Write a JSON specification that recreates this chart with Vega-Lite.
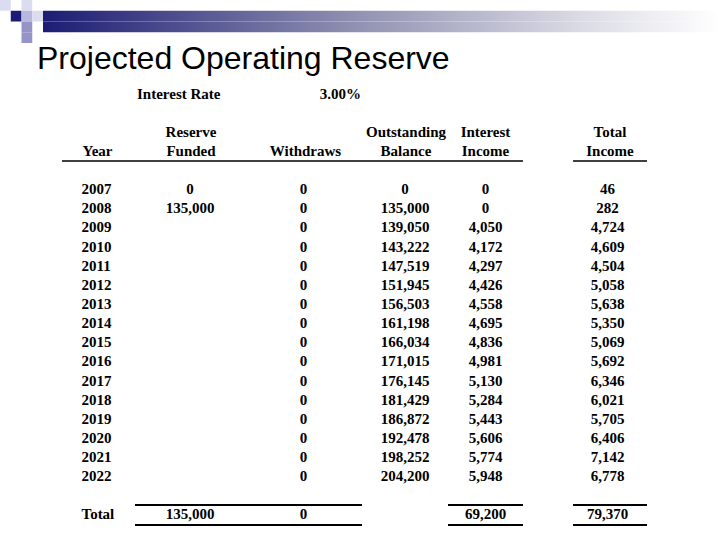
{
  "$schema": "https://vega.github.io/schema/vega-lite/v6.json",
  "padding": 0,
  "background": "white",
  "spacing": 0,
  "config": {
    "view": {"stroke": null},
    "concat": {"spacing": 0},
    "text": {"font": "Liberation Serif", "fontWeight": "bold", "fontSize": 15, "color": "#000000"},
    "rule": {"color": "#000000"}
  },
  "datasets": {
    "deco": [
      {"c": 0, "r": 0, "shade": "pale"},
      {"c": 1, "r": 1, "shade": "navy"},
      {"c": 2, "r": 0, "shade": "pale"},
      {"c": 2, "r": 1, "shade": "soft"},
      {"c": 3, "r": 1, "shade": "pale"},
      {"c": 2, "r": 2, "shade": "mid"},
      {"c": 2, "r": 3, "shade": "mid"}
    ],
    "bar": [{"r": 1}, {"r": 2}],
    "params": [{"label": "Interest Rate", "rate": 0.03}],
    "headers": [
      {"col": "year", "row": "h2", "label": "Year"},
      {"col": "funded", "row": "h1", "label": "Reserve"},
      {"col": "funded", "row": "h2", "label": "Funded"},
      {"col": "withdraws", "row": "h2", "label": "Withdraws"},
      {"col": "balance", "row": "h1", "label": "Outstanding"},
      {"col": "balance", "row": "h2", "label": "Balance"},
      {"col": "interest", "row": "h1", "label": "Interest"},
      {"col": "interest", "row": "h2", "label": "Income"},
      {"col": "total", "row": "h1", "label": "Total"},
      {"col": "total", "row": "h2", "label": "Income"}
    ],
    "table": [
      {"year": "2007", "funded": 0, "withdraws": 0, "balance": 0, "interest": 0, "total": 46},
      {"year": "2008", "funded": 135000, "withdraws": 0, "balance": 135000, "interest": 0, "total": 282},
      {"year": "2009", "funded": null, "withdraws": 0, "balance": 139050, "interest": 4050, "total": 4724},
      {"year": "2010", "funded": null, "withdraws": 0, "balance": 143222, "interest": 4172, "total": 4609},
      {"year": "2011", "funded": null, "withdraws": 0, "balance": 147519, "interest": 4297, "total": 4504},
      {"year": "2012", "funded": null, "withdraws": 0, "balance": 151945, "interest": 4426, "total": 5058},
      {"year": "2013", "funded": null, "withdraws": 0, "balance": 156503, "interest": 4558, "total": 5638},
      {"year": "2014", "funded": null, "withdraws": 0, "balance": 161198, "interest": 4695, "total": 5350},
      {"year": "2015", "funded": null, "withdraws": 0, "balance": 166034, "interest": 4836, "total": 5069},
      {"year": "2016", "funded": null, "withdraws": 0, "balance": 171015, "interest": 4981, "total": 5692},
      {"year": "2017", "funded": null, "withdraws": 0, "balance": 176145, "interest": 5130, "total": 6346},
      {"year": "2018", "funded": null, "withdraws": 0, "balance": 181429, "interest": 5284, "total": 6021},
      {"year": "2019", "funded": null, "withdraws": 0, "balance": 186872, "interest": 5443, "total": 5705},
      {"year": "2020", "funded": null, "withdraws": 0, "balance": 192478, "interest": 5606, "total": 6406},
      {"year": "2021", "funded": null, "withdraws": 0, "balance": 198252, "interest": 5774, "total": 7142},
      {"year": "2022", "funded": null, "withdraws": 0, "balance": 204200, "interest": 5948, "total": 6778},
      {"year": "Total", "funded": 135000, "withdraws": 0, "balance": null, "interest": 69200, "total": 79370}
    ]
  },
  "vconcat": [
    {
      "spacing": 0,
      "hconcat": [
        {
          "width": 43, "height": 43,
          "data": {"name": "deco"},
          "mark": {"type": "rect"},
          "encoding": {
            "x": {"field": "c", "type": "ordinal", "axis": null, "scale": {"domain": [0, 1, 2, 3], "paddingInner": 0, "paddingOuter": 0}},
            "y": {"field": "r", "type": "ordinal", "axis": null, "scale": {"domain": [0, 1, 2, 3], "paddingInner": 0, "paddingOuter": 0}},
            "color": {"field": "shade", "type": "nominal", "legend": null, "scale": {"domain": ["navy", "mid", "soft", "pale"], "range": ["#1c1c78", "#9494c8", "#b8b8de", "#dcdcf0"]}}
          }
        },
        {
          "width": 677, "height": 43,
          "data": {"name": "bar"},
          "mark": {"type": "rect", "color": {"gradient": "linear", "x1": 0, "y1": 0, "x2": 1, "y2": 0, "stops": [{"offset": 0, "color": "#1c1c74"}, {"offset": 0.45, "color": "#8e8eb0"}, {"offset": 0.8, "color": "#dcdce6"}, {"offset": 1, "color": "#ffffff"}]}},
          "encoding": {
            "y": {"field": "r", "type": "ordinal", "axis": null, "scale": {"domain": [0, 1, 2, 3], "paddingInner": 0, "paddingOuter": 0}}
          }
        }
      ]
    },
    {
      "spacing": 0,
      "bounds": "flush",
      "title": {"text": "Projected Operating Reserve", "anchor": "start", "frame": "bounds", "font": "Liberation Sans", "fontSize": 32, "fontWeight": "normal", "color": "#000000", "dx": 37, "offset": 8},
      "hconcat": [
        {"width": 62, "height": 440, "data": {"values": []}, "mark": "text", "encoding": {}},
        {
          "width": 73, "height": 440,
          "layer": [
            {"data": {"name": "headers"}, "transform": [{"filter": "datum.col == 'year'"}], "mark": {"type": "text", "align": "left", "dx": -16}, "encoding": {"y": {"field": "row", "type": "ordinal", "axis": null, "scale": {"domain": ["ir","s1","h1","h2","s2","2007","2008","2009","2010","2011","2012","2013","2014","2015","2016","2017","2018","2019","2020","2021","2022","s3","Total"], "padding": 0}}, "text": {"field": "label"}}},
            {"data": {"name": "table"}, "mark": {"type": "text", "align": "left", "dx": -17}, "encoding": {"y": {"field": "year", "type": "ordinal", "axis": null}, "text": {"field": "year"}}},
            {"data": {"values": [{}]}, "mark": {"type": "rule", "yOffset": 10, "strokeWidth": 1.5}, "encoding": {"y": {"datum": "h2", "type": "ordinal", "axis": null}}}
          ]
        },
        {
          "width": 110, "height": 440,
          "layer": [
            {"data": {"name": "params"}, "mark": {"type": "text", "align": "left", "dx": -53}, "encoding": {"y": {"datum": "ir", "type": "ordinal", "axis": null, "scale": {"domain": ["ir","s1","h1","h2","s2","2007","2008","2009","2010","2011","2012","2013","2014","2015","2016","2017","2018","2019","2020","2021","2022","s3","Total"], "padding": 0}}, "text": {"field": "label"}}},
            {"data": {"name": "headers"}, "transform": [{"filter": "datum.col == 'funded'"}], "mark": {"type": "text", "dx": 1}, "encoding": {"y": {"field": "row", "type": "ordinal", "axis": null}, "text": {"field": "label"}}},
            {"data": {"name": "table"}, "transform": [{"filter": "datum.funded != null"}], "mark": {"type": "text"}, "encoding": {"y": {"field": "year", "type": "ordinal", "axis": null}, "text": {"field": "funded", "type": "quantitative", "format": ",.0f"}}},
            {"data": {"values": [{}]}, "mark": {"type": "rule", "yOffset": 10, "strokeWidth": 1.5}, "encoding": {"y": {"datum": "h2", "type": "ordinal", "axis": null}}},
            {"data": {"values": [{}]}, "mark": {"type": "rule", "yOffset": -9.5, "strokeWidth": 2}, "encoding": {"y": {"datum": "Total", "type": "ordinal", "axis": null}}},
            {"data": {"values": [{}]}, "mark": {"type": "rule", "yOffset": 10.5, "strokeWidth": 2}, "encoding": {"y": {"datum": "Total", "type": "ordinal", "axis": null}}}
          ]
        },
        {
          "width": 117, "height": 440,
          "layer": [
            {"data": {"name": "params"}, "mark": {"type": "text", "align": "right", "dx": 57.5}, "encoding": {"y": {"datum": "ir", "type": "ordinal", "axis": null, "scale": {"domain": ["ir","s1","h1","h2","s2","2007","2008","2009","2010","2011","2012","2013","2014","2015","2016","2017","2018","2019","2020","2021","2022","s3","Total"], "padding": 0}}, "text": {"field": "rate", "type": "quantitative", "format": ".2%"}}},
            {"data": {"name": "headers"}, "transform": [{"filter": "datum.col == 'withdraws'"}], "mark": {"type": "text", "dx": 2}, "encoding": {"y": {"field": "row", "type": "ordinal", "axis": null}, "text": {"field": "label"}}},
            {"data": {"name": "table"}, "transform": [{"filter": "datum.withdraws != null"}], "mark": {"type": "text"}, "encoding": {"y": {"field": "year", "type": "ordinal", "axis": null}, "text": {"field": "withdraws", "type": "quantitative", "format": ",.0f"}}},
            {"data": {"values": [{}]}, "mark": {"type": "rule", "yOffset": 10, "strokeWidth": 1.5}, "encoding": {"y": {"datum": "h2", "type": "ordinal", "axis": null}}},
            {"data": {"values": [{}]}, "mark": {"type": "rule", "yOffset": -9.5, "strokeWidth": 2}, "encoding": {"y": {"datum": "Total", "type": "ordinal", "axis": null}}},
            {"data": {"values": [{}]}, "mark": {"type": "rule", "yOffset": 10.5, "strokeWidth": 2}, "encoding": {"y": {"datum": "Total", "type": "ordinal", "axis": null}}}
          ]
        },
        {
          "width": 86, "height": 440,
          "layer": [
            {"data": {"name": "headers"}, "transform": [{"filter": "datum.col == 'balance'"}], "mark": {"type": "text", "dx": 1}, "encoding": {"y": {"field": "row", "type": "ordinal", "axis": null, "scale": {"domain": ["ir","s1","h1","h2","s2","2007","2008","2009","2010","2011","2012","2013","2014","2015","2016","2017","2018","2019","2020","2021","2022","s3","Total"], "padding": 0}}, "text": {"field": "label"}}},
            {"data": {"name": "table"}, "transform": [{"filter": "datum.balance != null"}], "mark": {"type": "text"}, "encoding": {"y": {"field": "year", "type": "ordinal", "axis": null}, "text": {"field": "balance", "type": "quantitative", "format": ",.0f"}}},
            {"data": {"values": [{}]}, "mark": {"type": "rule", "yOffset": 10, "strokeWidth": 1.5}, "encoding": {"y": {"datum": "h2", "type": "ordinal", "axis": null}}}
          ]
        },
        {
          "width": 75, "height": 440,
          "layer": [
            {"data": {"name": "headers"}, "transform": [{"filter": "datum.col == 'interest'"}], "mark": {"type": "text"}, "encoding": {"y": {"field": "row", "type": "ordinal", "axis": null, "scale": {"domain": ["ir","s1","h1","h2","s2","2007","2008","2009","2010","2011","2012","2013","2014","2015","2016","2017","2018","2019","2020","2021","2022","s3","Total"], "padding": 0}}, "text": {"field": "label"}}},
            {"data": {"name": "table"}, "transform": [{"filter": "datum.interest != null"}], "mark": {"type": "text"}, "encoding": {"y": {"field": "year", "type": "ordinal", "axis": null}, "text": {"field": "interest", "type": "quantitative", "format": ",.0f"}}},
            {"data": {"values": [{}]}, "mark": {"type": "rule", "yOffset": 10, "strokeWidth": 1.5}, "encoding": {"y": {"datum": "h2", "type": "ordinal", "axis": null}}},
            {"data": {"values": [{}]}, "mark": {"type": "rule", "yOffset": -9.5, "strokeWidth": 2}, "encoding": {"y": {"datum": "Total", "type": "ordinal", "axis": null}}},
            {"data": {"values": [{}]}, "mark": {"type": "rule", "yOffset": 10.5, "strokeWidth": 2}, "encoding": {"y": {"datum": "Total", "type": "ordinal", "axis": null}}}
          ]
        },
        {"width": 50, "height": 440, "data": {"values": []}, "mark": "text", "encoding": {}},
        {
          "width": 74, "height": 440,
          "layer": [
            {"data": {"name": "headers"}, "transform": [{"filter": "datum.col == 'total'"}], "mark": {"type": "text"}, "encoding": {"y": {"field": "row", "type": "ordinal", "axis": null, "scale": {"domain": ["ir","s1","h1","h2","s2","2007","2008","2009","2010","2011","2012","2013","2014","2015","2016","2017","2018","2019","2020","2021","2022","s3","Total"], "padding": 0}}, "text": {"field": "label"}}},
            {"data": {"name": "table"}, "transform": [{"filter": "datum.total != null"}], "mark": {"type": "text", "dx": -2.5}, "encoding": {"y": {"field": "year", "type": "ordinal", "axis": null}, "text": {"field": "total", "type": "quantitative", "format": ",.0f"}}},
            {"data": {"values": [{}]}, "mark": {"type": "rule", "yOffset": 10, "strokeWidth": 1.5}, "encoding": {"y": {"datum": "h2", "type": "ordinal", "axis": null}}},
            {"data": {"values": [{}]}, "mark": {"type": "rule", "yOffset": -9.5, "strokeWidth": 2}, "encoding": {"y": {"datum": "Total", "type": "ordinal", "axis": null}}},
            {"data": {"values": [{}]}, "mark": {"type": "rule", "yOffset": 10.5, "strokeWidth": 2}, "encoding": {"y": {"datum": "Total", "type": "ordinal", "axis": null}}}
          ]
        }
      ]
    }
  ]
}
